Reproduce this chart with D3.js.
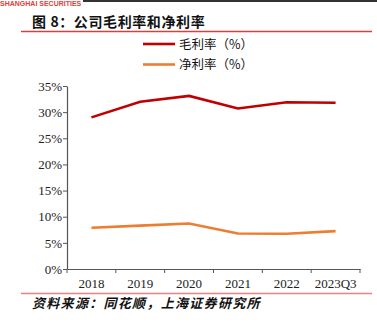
<!DOCTYPE html>
<html><head><meta charset="utf-8">
<script src="https://cdn.jsdelivr.net/npm/d3@7"></script>
<style>body{margin:0;background:#fff;}svg{display:block;}</style>
</head><body>
<svg id="c" width="377" height="324"></svg>
<script>
const categories = ["2018","2019","2020","2021","2022","2023Q3"];
const grossMargin = [29.0, 32.0, 33.1, 30.7, 31.9, 31.8];
const netMargin = [7.9, 8.3, 8.7, 6.8, 6.75, 7.25];
const yTicks = [0,5,10,15,20,25,30,35];
const seriesNames = ["毛利率（%）","净利率（%）"];
const colors = ["#C00000","#ED7D31"];

const svg = d3.select("#c");
// header decorations
svg.append("text").attr("x",0).attr("y",6).attr("font-family","Liberation Sans, Arial").attr("font-weight","bold")
  .attr("font-size",7).attr("fill","#E0403A").text("SHANGHAI SECURITIES");
svg.append("line").attr("x1",83).attr("x2",377).attr("y1",1).attr("y2",1).attr("stroke","#333").attr("stroke-width",2);
svg.append("text").attr("x",32).attr("y",27).attr("font-family","Noto Sans CJK SC").attr("font-weight","bold")
  .attr("font-size",14).attr("letter-spacing",0.6).attr("fill","#111").text("图 8：公司毛利率和净利率");
svg.append("line").attr("x1",21).attr("x2",372).attr("y1",31.5).attr("y2",31.5).attr("stroke","#E03C3C").attr("stroke-width",1.3);
svg.append("line").attr("x1",21).attr("x2",372).attr("y1",293.5).attr("y2",293.5).attr("stroke","#F08080").attr("stroke-width",1.3);
svg.append("text").attr("x",32).attr("y",308).attr("font-family","Noto Sans CJK SC").attr("font-weight","bold")
  .attr("font-style","italic").attr("font-size",13).attr("letter-spacing",1.3).attr("fill","#111").text("资料来源：同花顺，上海证券研究所");

const x = d3.scaleBand().domain(categories).range([67,360]);
const y = d3.scaleLinear().domain([0,35]).range([269,86]);

const gy = svg.append("g").attr("transform","translate(67,0)")
  .call(d3.axisLeft(y).tickValues(yTicks).tickFormat(d=>d+"%").tickSize(4).tickSizeOuter(0));
gy.select(".domain").attr("stroke","#555").attr("stroke-width",1.2);
gy.selectAll(".tick line").attr("stroke","#555");
gy.selectAll(".tick text").attr("font-family","Liberation Serif, Times New Roman").attr("font-size",13).attr("fill","#222").attr("x",-5);

const gx = svg.append("g").attr("transform","translate(0,269)")
  .call(d3.axisBottom(x).tickSize(0).tickSizeOuter(0));
gx.select(".domain").attr("stroke","#555").attr("stroke-width",1.2);
gx.selectAll(".tick text").attr("font-family","Liberation Serif, Times New Roman").attr("font-size",13).attr("fill","#222").attr("y",10);
// category boundary ticks
const bounds = categories.map(c=>x(c)).concat([x.range()[1]]);
gx.selectAll(".bt").data(bounds).enter().append("line").attr("x1",d=>d).attr("x2",d=>d).attr("y1",0).attr("y2",4).attr("stroke","#555");

const line = d3.line().x((d,i)=>x(categories[i])+x.bandwidth()/2).y(d=>y(d));
[grossMargin, netMargin].forEach((s,i)=>{
  svg.append("path").attr("d",line(s)).attr("fill","none").attr("stroke",colors[i]).attr("stroke-width",2.6);
});

// legend
seriesNames.forEach((n,i)=>{
  const yy = 44 + i*20.5;
  svg.append("line").attr("x1",143).attr("x2",175).attr("y1",yy).attr("y2",yy).attr("stroke",colors[i]).attr("stroke-width",2.6);
  svg.append("text").attr("x",179).attr("y",yy+4.5).attr("font-family","Noto Sans CJK SC").attr("font-size",12.5).attr("fill","#111").text(n);
});
</script>
</body></html>
